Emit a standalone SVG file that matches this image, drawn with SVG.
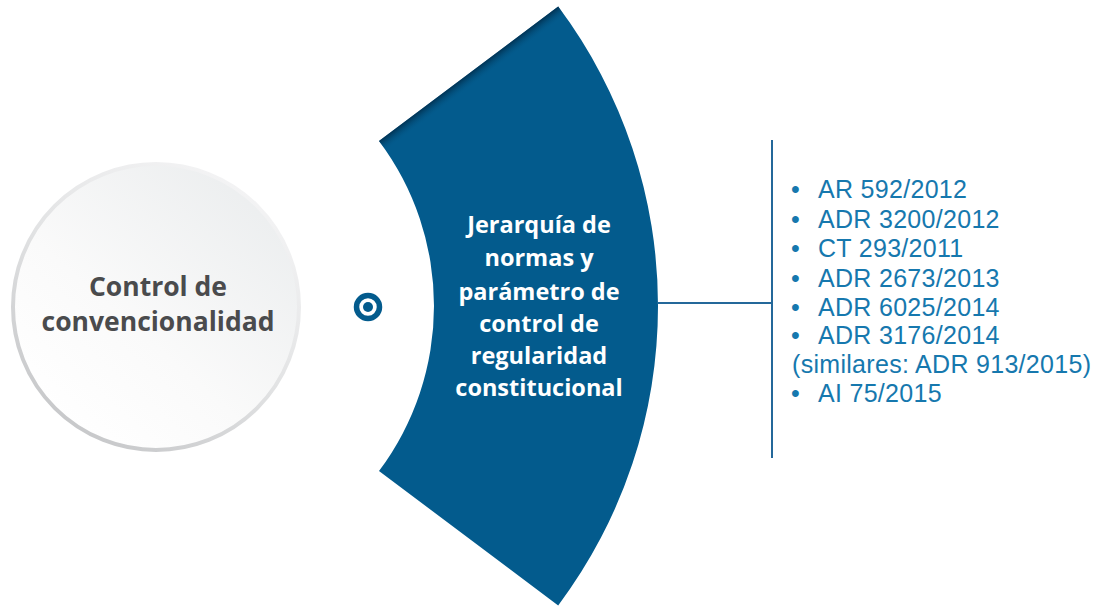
<svg xmlns="http://www.w3.org/2000/svg" width="1096" height="606" viewBox="0 0 1096 606">
  <defs>
    <linearGradient id="circFill" x1="0.85" y1="0.1" x2="0.15" y2="0.9">
      <stop offset="0" stop-color="#eceeef"/>
      <stop offset="0.6" stop-color="#fafafa"/>
      <stop offset="1" stop-color="#ffffff"/>
    </linearGradient>
    <linearGradient id="circRim" x1="0.8" y1="0.05" x2="0.2" y2="0.95">
      <stop offset="0" stop-color="#f4f4f5"/>
      <stop offset="0.5" stop-color="#e2e3e4"/>
      <stop offset="1" stop-color="#c6c7c9"/>
    </linearGradient>
    <linearGradient id="edgeShade" gradientUnits="userSpaceOnUse" x1="468.6" y1="73.8" x2="475.8" y2="83.4">
      <stop offset="0" stop-color="#012c4a" stop-opacity="0.85"/>
      <stop offset="1" stop-color="#035b8d" stop-opacity="0"/>
    </linearGradient>
    <style>
      .ctext { font-family: "Open Sans", "Liberation Sans", sans-serif; font-weight: 700; font-size: 26.5px; fill: #4a4b4d; text-anchor: middle; }
      .atext { font-family: "Open Sans", "Liberation Sans", sans-serif; font-weight: 700; font-size: 23.5px; fill: #ffffff; text-anchor: middle; }
      .ltext { font-family: "Liberation Sans", "Open Sans", sans-serif; font-size: 25px; letter-spacing: 0.3px; fill: #1678ae; }
      .conn { stroke: #24689a; stroke-width: 2; fill: none; }
    </style>
  </defs>

  <rect width="1096" height="606" fill="#ffffff"/>

  <g id="node-convencionalidad">
    <circle cx="156" cy="307" r="143" fill="url(#circFill)" stroke="url(#circRim)" stroke-width="4"/>
    <text class="ctext" x="158" y="296">Control de</text>
    <text class="ctext" x="158" y="331">convencionalidad</text>
  </g>

  <g id="icon-target">
    <circle cx="368" cy="307" r="11.5" fill="none" stroke="#035b8d" stroke-width="5.5"/>
    <circle cx="368" cy="307" r="5" fill="#035b8d"/>
  </g>

  <g id="node-jerarquia">
    <path d="M379,141 L558.2,6.6 A499,499 0 0 1 558.2,605.4 L379,471 A275,275 0 0 0 379,141 Z" fill="#035b8d"/>
    <path d="M379,141 L558.2,6.6 L565,16 L390,155 Z" fill="url(#edgeShade)"/>
    <text class="atext" x="539" y="233">Jerarquía de</text>
    <text class="atext" x="539" y="266">normas y</text>
    <text class="atext" x="539" y="300">parámetro de</text>
    <text class="atext" x="539" y="332">control de</text>
    <text class="atext" x="539" y="364">regularidad</text>
    <text class="atext" x="539" y="396">constitucional</text>
  </g>

  <g id="connectors">
    <line class="conn" x1="658" y1="303" x2="772" y2="303"/>
    <line class="conn" x1="772" y1="140" x2="772" y2="458"/>
  </g>

  <g id="node-list">
    <text class="ltext" x="791" y="198">•<tspan x="818">AR 592/2012</tspan></text>
    <text class="ltext" x="791" y="228">•<tspan x="818">ADR 3200/2012</tspan></text>
    <text class="ltext" x="791" y="257">•<tspan x="818">CT 293/2011</tspan></text>
    <text class="ltext" x="791" y="287">•<tspan x="818">ADR 2673/2013</tspan></text>
    <text class="ltext" x="791" y="316">•<tspan x="818">ADR 6025/2014</tspan></text>
    <text class="ltext" x="791" y="344">•<tspan x="818">ADR 3176/2014</tspan></text>
    <text class="ltext" x="792" y="373">(similares: ADR 913/2015)</text>
    <text class="ltext" x="791" y="402">•<tspan x="818">AI 75/2015</tspan></text>
  </g>
</svg>
